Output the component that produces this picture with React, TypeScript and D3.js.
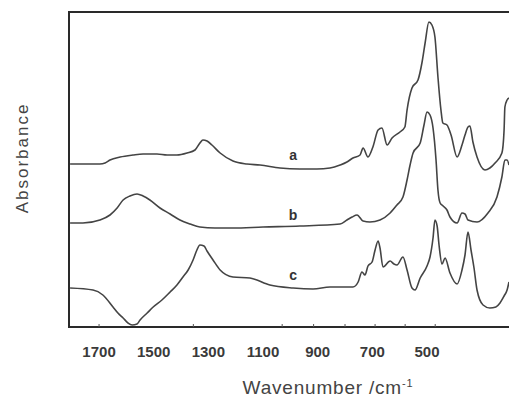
import React from "react";
import * as d3 from "d3";

// Wavenumber (cm-1) / absorbance (arb. units)
const waveA = [1806,1697,1678,1660,1623,1576,1539,1488,1451,1415,1378,1349,1331,1320,1305,1287,1257,1210,1159,1111,1038,965,903,855,818,793,771,745,734,716,698,679,665,646,628,599,581,573,555,533,518,507,493,482,471,460,449,442,427,412,390,372,361,350,343,332,317,288,270,251,226,218,215,207,200];
const absA = [1.63,1.63,1.64,1.67,1.70,1.72,1.73,1.73,1.72,1.72,1.74,1.77,1.84,1.87,1.86,1.82,1.74,1.66,1.63,1.62,1.59,1.58,1.58,1.59,1.62,1.65,1.69,1.72,1.79,1.70,1.80,1.97,1.99,1.82,1.89,1.95,2.00,2.17,2.39,2.47,2.65,2.84,3.05,3.02,2.90,2.50,2.17,2.04,2.02,1.92,1.70,1.82,1.92,2.00,2.01,1.85,1.70,1.57,1.59,1.64,1.74,1.97,2.20,2.27,2.29];

const waveB = [1806,1759,1697,1660,1634,1612,1587,1561,1539,1514,1477,1440,1404,1367,1331,1276,1210,1100,965,818,793,774,756,734,709,672,635,610,588,573,562,551,525,511,500,489,478,467,460,452,441,427,416,390,372,361,350,317,277,244,226,215,207,200];
const absB = [1.04,1.04,1.07,1.12,1.19,1.27,1.31,1.33,1.31,1.27,1.19,1.13,1.07,1.03,1.00,0.99,0.99,1.00,1.01,1.03,1.07,1.10,1.12,1.06,1.05,1.07,1.14,1.22,1.30,1.47,1.62,1.74,1.84,2.02,2.15,2.12,1.99,1.67,1.37,1.24,1.21,1.17,1.10,1.04,1.14,1.13,1.07,1.05,1.14,1.30,1.50,1.67,1.67,1.62];

const waveC = [1806,1722,1686,1649,1631,1612,1594,1579,1561,1550,1524,1502,1470,1440,1415,1393,1374,1356,1342,1331,1316,1305,1283,1257,1210,1148,1075,990,917,855,771,752,738,727,716,701,690,679,672,661,635,621,610,588,573,555,544,525,500,489,478,471,463,456,445,434,416,390,372,361,350,339,328,317,295,270,248,233,218,207,200];
const absC = [0.39,0.37,0.32,0.20,0.14,0.09,0.04,0.02,0.03,0.07,0.14,0.20,0.27,0.35,0.42,0.50,0.57,0.67,0.77,0.82,0.81,0.76,0.67,0.57,0.50,0.49,0.42,0.39,0.38,0.40,0.40,0.45,0.55,0.52,0.61,0.65,0.77,0.86,0.79,0.60,0.66,0.63,0.62,0.70,0.57,0.39,0.37,0.49,0.61,0.70,0.89,1.07,1.01,0.82,0.63,0.69,0.54,0.43,0.57,0.72,0.95,0.77,0.59,0.37,0.22,0.19,0.20,0.24,0.31,0.37,0.45];

const tickLabels = [1700, 1500, 1300, 1100, 900, 700, 500];
const tickMarks = [1700, 1355, 1030, 915, 800, 690, 580, 470];

const seriesLabels = ["a", "b", "c"];
const labelWave = [990, 990, 990];
const labelAbs = [1.67, 1.07, 0.47];

export default function App() {
  const W = 509, H = 398;
  const left = 69, right = 509, top = 12, bottom = 327;
  const x = d3.scaleLinear().domain([1810, 200]).range([left, right]);
  const y = d3.scaleLinear().domain([0, 3.15]).range([bottom, top]);
  const line = d3
    .line<[number, number]>()
    .x((d) => x(d[0]))
    .y((d) => y(d[1]))
    .curve(d3.curveMonotoneX);
  const series = [
    d3.zip(waveA, absA) as [number, number][],
    d3.zip(waveB, absB) as [number, number][],
    d3.zip(waveC, absC) as [number, number][],
  ];
  const font = "'Liberation Sans', Arial, sans-serif";
  return (
    <svg
      width={W}
      height={H}
      style={{ position: "absolute", left: 0, top: 0, background: "#fff" }}
    >
      <defs>
        <clipPath id="plot">
          <rect x={left} y={top} width={right - left} height={bottom - top} />
        </clipPath>
      </defs>
      <g clipPath="url(#plot)">
        {series.map((s, i) => (
          <path
            key={i}
            d={line(s) || ""}
            fill="none"
            stroke="#444"
            strokeWidth={1.6}
            strokeLinejoin="round"
          />
        ))}
      </g>
      {/* frame */}
      <path
        d={`M${right},${top}H${left}V${bottom}H${right}`}
        fill="none"
        stroke="#2a2a2a"
        strokeWidth={2}
      />
      {tickMarks.map((t) => (
        <line
          key={t}
          x1={x(t)}
          x2={x(t)}
          y1={bottom}
          y2={bottom - 3}
          stroke="#555"
          strokeWidth={1}
        />
      ))}
      {tickLabels.map((t) => (
        <text
          key={t}
          x={x(t)}
          y={357}
          textAnchor="middle"
          fontFamily={font}
          fontSize={15}
          fontWeight={600}
          fill="#3a3a3a"
        >
          {t}
        </text>
      ))}
      {seriesLabels.map((l, i) => (
        <text
          key={l}
          x={x(labelWave[i])}
          y={y(labelAbs[i])}
          textAnchor="middle"
          fontFamily={font}
          fontSize={14}
          fontWeight="bold"
          fill="#333"
        >
          {l}
        </text>
      ))}
      <text
        transform={`translate(28,158) rotate(-90)`}
        textAnchor="middle"
        fontFamily={font}
        fontSize={17}
        letterSpacing={2}
        fill="#444"
      >
        Absorbance
      </text>
      <text
        x={328}
        y={394}
        textAnchor="middle"
        fontFamily={font}
        fontSize={19}
        letterSpacing={0.8}
        fill="#444"
      >
        Wavenumber /cm<tspan dy={-7} fontSize={11}>-1</tspan>
      </text>
    </svg>
  );
}
